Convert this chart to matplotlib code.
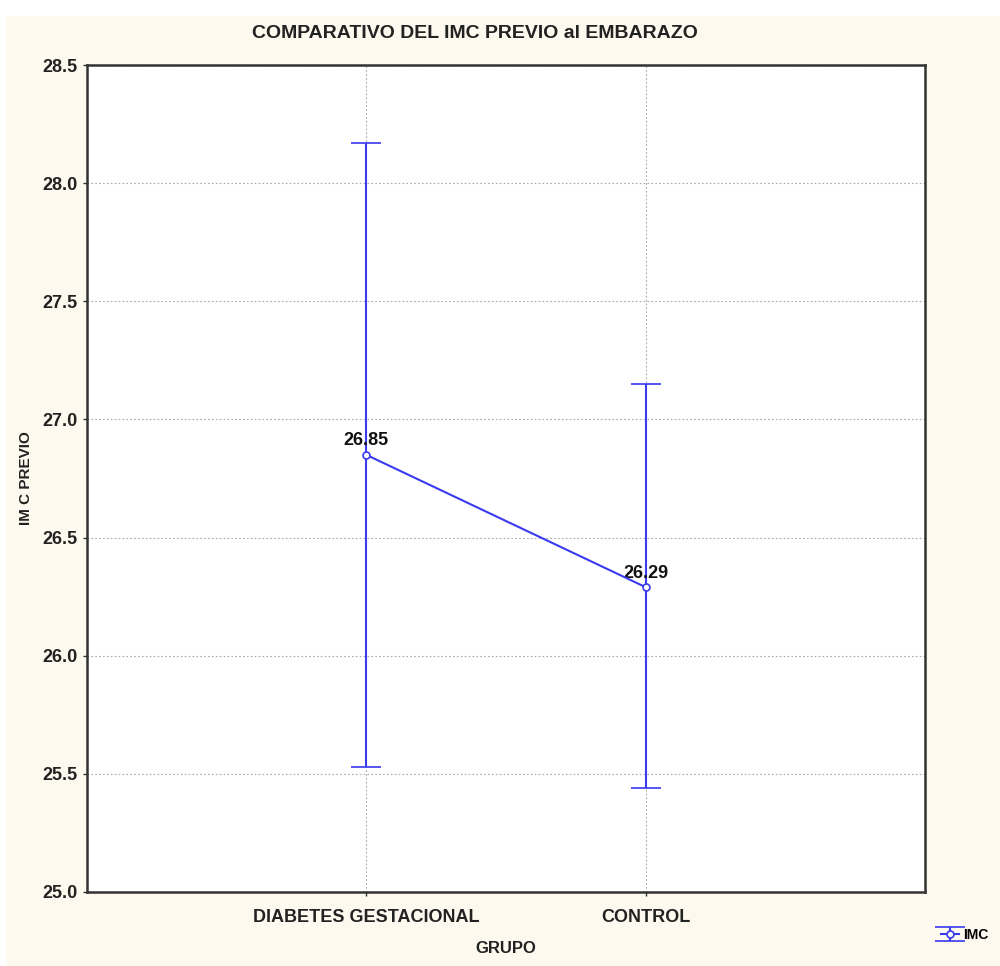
import matplotlib
matplotlib.use("Agg")
import matplotlib.pyplot as plt
from matplotlib.patches import Rectangle
from matplotlib import font_manager

groups = ["DIABETES GESTACIONAL", "CONTROL"]
means = [26.85, 26.29]
lower = [25.53, 25.44]
upper = [28.17, 27.15]
yticks = [25.0, 25.5, 26.0, 26.5, 27.0, 27.5, 28.0, 28.5]

names = {f.name for f in font_manager.fontManager.ttflist}
fam = "Liberation Sans Narrow" if "Liberation Sans Narrow" in names else "Liberation Sans"
plt.rcParams['font.family'] = [fam, 'DejaVu Sans']

cream = "#fdf9ee"
blue = "#3a3af0"

fig = plt.figure(figsize=(10, 9.66), dpi=100, facecolor="white")
fig.patches.append(Rectangle((0.006, 0), 0.994, 0.983, transform=fig.transFigure,
                             facecolor=cream, edgecolor="none", zorder=-10))
ax = fig.add_axes([0.087, 1 - 892/966, 0.838, (892 - 65)/966])
ax.set_facecolor("white")

x = [1, 2]
yerr = [[m - l for m, l in zip(means, lower)], [u - m for m, u in zip(means, upper)]]
eb = ax.errorbar(x, means, yerr=yerr, color=blue, lw=1.5, elinewidth=1.5, capsize=11,
                 capthick=1.5, marker="o", markersize=5, markerfacecolor="white",
                 markeredgecolor=blue, markeredgewidth=1.2, label="IMC", zorder=3)

for xi, m in zip(x, means):
    ax.annotate(f"{m:.2f}", (xi, m), xytext=(0, 4), textcoords="offset points",
                ha="center", va="bottom", fontsize=13, fontweight="bold", color="#111111")

ax.set_xlim(0, 3)
ax.set_ylim(25.0, 28.5)
ax.set_xticks(x)
ax.set_xticklabels(groups)
ax.set_yticks(yticks)
ax.set_yticklabels([f"{t:.1f}" for t in yticks])
ax.tick_params(axis="both", labelsize=13, length=3, width=1, color="#333333")
for lab in ax.get_xticklabels() + ax.get_yticklabels():
    lab.set_fontweight("bold")
    lab.set_color("#222222")
ax.tick_params(axis="x", pad=9)
ax.grid(True, linestyle=(0, (1.5, 2)), color="#aaaaaa", lw=0.8)
for s in ax.spines.values():
    s.set_color("#333333")
    s.set_linewidth(1.8)

fig.text(0.475, 1 - 33/966, "COMPARATIVO DEL IMC PREVIO al EMBARAZO", fontsize=14,
         fontweight="bold", color="#222222", ha="center", va="center")
ax.set_xlabel("GRUPO", fontsize=12, fontweight="bold", color="#222222", labelpad=11)
ax.set_ylabel("IM C PREVIO", fontsize=11, fontweight="bold", color="#222222")
ax.yaxis.set_label_coords(-0.065, 0.5)

leg = fig.legend(handles=[eb], labels=["IMC"], loc="center", bbox_to_anchor=(0.965, 1 - 935/966),
                 frameon=False, handlelength=1.3, handletextpad=0.3,
                 prop={"weight": "bold", "size": 10})

fig.savefig("out.png", dpi=100, facecolor=fig.get_facecolor())
